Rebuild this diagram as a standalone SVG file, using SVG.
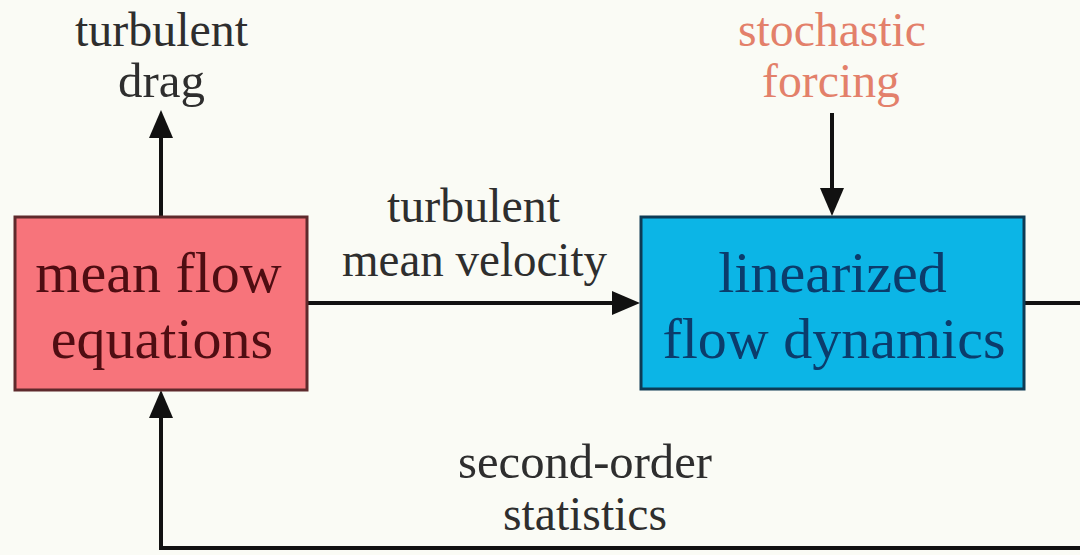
<svg xmlns="http://www.w3.org/2000/svg" width="1080" height="555" viewBox="0 0 1080 555">
  <defs>
    <style>
      text { font-family: "Liberation Serif", "Times New Roman", serif; }
      .lbl { font-size: 47.5px; fill: #2e2e2e; text-anchor: middle; }
      .box { font-size: 58px; text-anchor: middle; }
      .ln { stroke: #111; stroke-width: 4; fill: none; }
      .hd { fill: #111; }
    </style>
  </defs>
  <rect width="1080" height="555" fill="#FAFBF5"/>

  <g id="connectors">
    <line class="ln" x1="161" y1="216" x2="161" y2="135"/>
    <polygon class="hd" points="161,110 149,138 173,138"/>
    <line class="ln" x1="307" y1="303" x2="615" y2="303"/>
    <polygon class="hd" points="640,303 612,291 612,315"/>
    <line class="ln" x1="832" y1="113" x2="832" y2="192"/>
    <polygon class="hd" points="832,216 820,188 844,188"/>
    <line class="ln" x1="1024" y1="303" x2="1080" y2="303"/>
    <polyline class="ln" points="1080,548 161,548 161,414"/>
    <polygon class="hd" points="161,390 149,418 173,418"/>
  </g>

  <g id="label-drag">
    <text class="lbl" x="161.5" y="46" textLength="173" lengthAdjust="spacingAndGlyphs">turbulent</text>
    <text class="lbl" x="161.5" y="97" textLength="87" lengthAdjust="spacingAndGlyphs">drag</text>
  </g>
  <g id="label-forcing">
    <text class="lbl" x="832" y="46" textLength="188" lengthAdjust="spacingAndGlyphs" style="fill:#E3806A">stochastic</text>
    <text class="lbl" x="831" y="97" textLength="138" lengthAdjust="spacingAndGlyphs" style="fill:#E3806A">forcing</text>
  </g>
  <g id="label-velocity">
    <text class="lbl" x="473.5" y="222" textLength="173" lengthAdjust="spacingAndGlyphs">turbulent</text>
    <text class="lbl" x="474.5" y="276" textLength="265" lengthAdjust="spacingAndGlyphs">mean velocity</text>
  </g>
  <g id="label-statistics">
    <text class="lbl" x="585" y="478" textLength="254" lengthAdjust="spacingAndGlyphs">second-order</text>
    <text class="lbl" x="585" y="530" textLength="164" lengthAdjust="spacingAndGlyphs">statistics</text>
  </g>

  <g id="mean-flow">
    <rect x="15" y="217" width="292" height="173" fill="#F7747B" stroke="#5e2a2c" stroke-width="3"/>
    <text class="box" x="158.5" y="292" style="fill:#4f0d12">mean flow</text>
    <text class="box" x="162" y="358" style="fill:#4f0d12">equations</text>
  </g>
  <g id="linearized">
    <rect x="641" y="217" width="383" height="172" fill="#0CB5E6" stroke="#0d3b55" stroke-width="3"/>
    <text class="box" x="832.5" y="292" style="fill:#0b3c6c">linearized</text>
    <text class="box" x="834" y="358" style="fill:#0b3c6c">flow dynamics</text>
  </g>
</svg>
